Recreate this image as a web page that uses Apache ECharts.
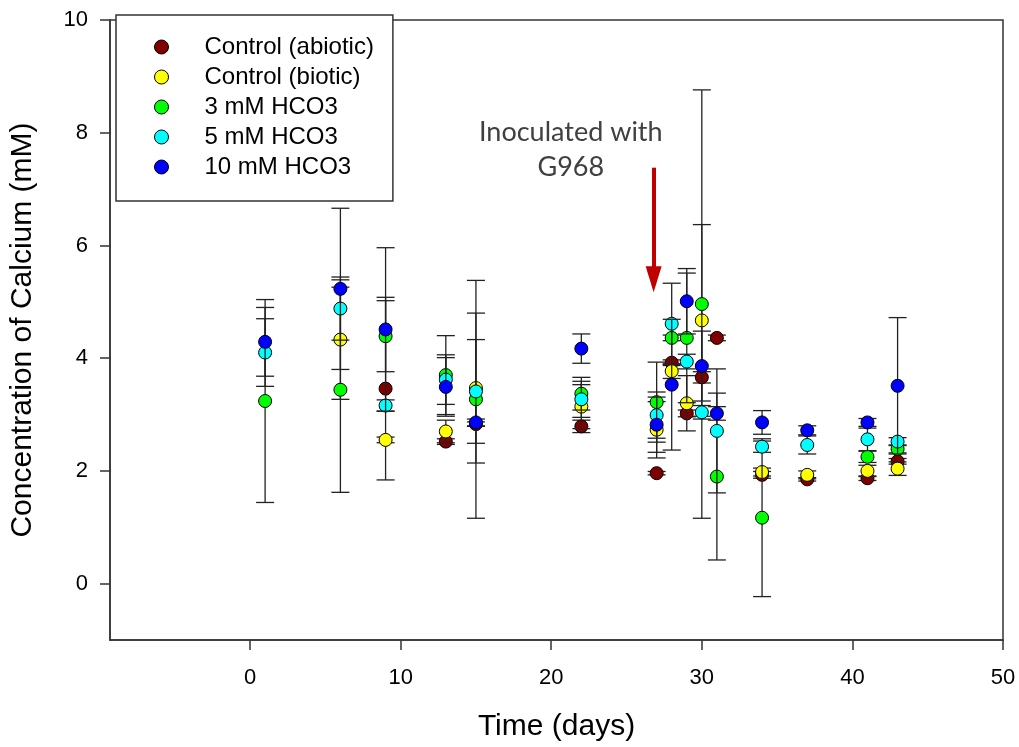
<!DOCTYPE html>
<html>
<head>
<meta charset="utf-8">
<script src="https://cdn.jsdelivr.net/npm/echarts@6/dist/echarts.min.js"></script>
<style>
html,body{margin:0;padding:0;background:#fff;}
#chart{width:1019px;height:747px;}
</style>
</head>
<body>
<div id="chart"></div>
<script>
// ---- data ----
const days = [1, 6, 9, 13, 15, 22, 27, 28, 29, 30, 31, 34, 37, 41, 43];

const abioticVals = [null, null, 3.46, 2.52, 2.83, 2.79, 1.96, 3.92, 3.02, 3.66, 4.36, 1.93, 1.85, 1.87, 2.17];
const abioticErr  = [null, null, 1.62, 0.05, 0.04, 0.11, 0.03, 0.05, 0.06, 0.10, 0.05, 0.06, 0.03, 0.04, 0.05];

const bioticVals = [null, 4.33, 2.55, 2.70, 3.47, 3.14, 2.73, 3.77, 3.20, 4.67, null, 1.98, 1.93, 2.00, 2.04];
const bioticErr  = [null, 1.06, 0.05, 0.20, 1.33, 0.39, 0.50, 0.13, 0.49, 1.70, null, 0.07, 0.07, 0.10, 0.12];

const hco3_3Vals = [3.24, 3.44, 4.39, 3.70, 3.27, 3.37, 3.22, 4.36, 4.36, 4.96, 1.90, 1.17, null, 2.25, 2.39];
const hco3_3Err  = [1.80, 1.82, 0.63, 0.70, 2.11, 0.29, 0.71, 0.05, 1.15, 3.80, 1.48, 1.40, null, 0.10, 0.07];

const hco3_5Vals = [4.10, 4.88, 3.16, 3.62, 3.41, 3.27, 2.99, 4.61, 3.94, 3.04, 2.71, 2.43, 2.46, 2.56, 2.52];
const hco3_5Err  = [0.60, 0.56, 0.10, 0.44, 0.92, 0.32, 0.41, 0.72, 0.13, 0.12, 1.10, 0.10, 0.16, 0.20, 0.07];

const hco3_10Vals = [4.29, 5.23, 4.51, 3.49, 2.86, 4.17, 2.82, 3.53, 5.01, 3.86, 3.02, 2.86, 2.72, 2.86, 3.51];
const hco3_10Err  = [0.61, 1.43, 1.45, 0.52, 0.06, 0.26, 0.49, 1.16, 0.58, 0.62, 0.12, 0.21, 0.08, 0.07, 1.21];

const seriesNames = ['Control (abiotic)', 'Control (biotic)', '3 mM HCO3', '5 mM HCO3', '10 mM HCO3'];
const seriesColors = ['#800000', '#FFFF00', '#00FF00', '#00FFFF', '#0000FF'];

const xTicks = [0, 10, 20, 30, 40, 50];
const yTicks = [0, 2, 4, 6, 8, 10];

const annotationText = 'Inoculated with\nG968';
const annotationPos = [21.3, 7.69];
const arrowFrom = [26.8, 7.38];
const arrowTo = [26.8, 5.40];

// ---- build ----
const allVals = [abioticVals, bioticVals, hco3_3Vals, hco3_5Vals, hco3_10Vals];
const allErrs = [abioticErr, bioticErr, hco3_3Err, hco3_5Err, hco3_10Err];

function errRender(params, api) {
  const x = api.value(0), lo = api.value(1), hi = api.value(2);
  const pHi = api.coord([x, hi]);
  const pLo = api.coord([x, lo]);
  const hw = 9;
  const style = { stroke: '#222', lineWidth: 1.3 };
  return {
    type: 'group',
    children: [
      { type: 'line', shape: { x1: pHi[0], y1: pHi[1], x2: pLo[0], y2: pLo[1] }, style },
      { type: 'line', shape: { x1: pHi[0] - hw, y1: pHi[1], x2: pHi[0] + hw, y2: pHi[1] }, style },
      { type: 'line', shape: { x1: pLo[0] - hw, y1: pLo[1], x2: pLo[0] + hw, y2: pLo[1] }, style }
    ]
  };
}

const series = [];
allVals.forEach((vals, k) => {
  const errs = allErrs[k];
  const errData = [];
  const ptData = [];
  days.forEach((d, i) => {
    if (vals[i] == null) return;
    ptData.push([d, vals[i]]);
    errData.push([d, vals[i] - errs[i], vals[i] + errs[i]]);
  });
  series.push({
    type: 'custom',
    name: seriesNames[k] + ' err',
    renderItem: errRender,
    data: errData,
    encode: { x: 0, y: [1, 2] },
    z: 2 + k * 2,
    silent: true
  });
  series.push({
    type: 'scatter',
    name: seriesNames[k],
    data: ptData,
    symbol: 'circle',
    symbolSize: 13,
    itemStyle: { color: seriesColors[k], borderColor: '#000', borderWidth: 1, opacity: 1 },
    z: 3 + k * 2
  });
});

// annotation + arrow
series.push({
  type: 'scatter',
  name: 'annotation',
  data: [],
  silent: true,
  markPoint: {
    symbol: 'circle',
    symbolSize: 0,
    silent: true,
    label: {
      show: true,
      formatter: annotationText,
      fontFamily: 'Lato',
      fontSize: 27,
      lineHeight: 35,
      color: '#404040',
      align: 'center',
      verticalAlign: 'middle',
      position: 'inside'
    },
    data: [{ coord: annotationPos }]
  },
  markLine: {
    silent: true,
    symbol: ['none', 'triangle'],
    symbolSize: [16, 26],
    label: { show: false },
    lineStyle: { color: '#C00000', width: 4, type: 'solid' },
    emphasis: { disabled: true },
    data: [[{ coord: arrowFrom }, { coord: arrowTo }]]
  },
  z: 20
});

const chart = echarts.init(document.getElementById('chart'), null, { renderer: 'canvas' });
chart.setOption({
  animation: false,
  backgroundColor: '#fff',
  textStyle: { fontFamily: 'Liberation Sans' },
  grid: {
    left: 110, right: 16, top: 20, bottom: 104,
    show: true, borderColor: '#333', borderWidth: 1.5, backgroundColor: 'transparent'
  },
  legend: {
    data: seriesNames,
    orient: 'vertical',
    left: 116,
    top: 15,
    icon: 'circle',
    itemWidth: 76,
    itemHeight: 14,
    itemGap: 6,
    padding: [20, 19, 22, 38],
    backgroundColor: '#fff',
    borderColor: '#333',
    borderWidth: 1.5,
    borderRadius: 0,
    textStyle: { fontFamily: 'Liberation Sans', fontSize: 24, color: '#000', lineHeight: 24 },
    itemStyle: { borderColor: '#000', borderWidth: 1 },
    selectedMode: false,
    z: 30
  },
  xAxis: {
    type: 'value',
    min: -9.3,
    max: 50,
    name: 'Time (days)',
    nameLocation: 'middle',
    nameGap: 72,
    nameTextStyle: { fontFamily: 'Liberation Sans', fontSize: 30, color: '#000' },
    axisLine: { onZero: false, lineStyle: { color: '#333', width: 1.5 } },
    axisTick: { show: true, inside: false, length: 10, customValues: xTicks, lineStyle: { color: '#333', width: 1.5 } },
    axisLabel: { customValues: xTicks, fontFamily: 'Liberation Sans', fontSize: 22, color: '#000', margin: 27 },
    splitLine: { show: false }
  },
  yAxis: {
    type: 'value',
    min: -1,
    max: 10,
    name: 'Concentration of Calcium (mM)',
    nameLocation: 'middle',
    nameGap: 72,
    nameTextStyle: { fontFamily: 'Liberation Sans', fontSize: 30, color: '#000' },
    axisLine: { onZero: false, lineStyle: { color: '#333', width: 1.5 } },
    axisTick: { show: true, inside: false, length: 10, customValues: yTicks, lineStyle: { color: '#333', width: 1.5 } },
    axisLabel: { customValues: yTicks, fontFamily: 'Liberation Sans', fontSize: 22, color: '#000', margin: 22 },
    splitLine: { show: false }
  },
  series: series
});
</script>
</body>
</html>
